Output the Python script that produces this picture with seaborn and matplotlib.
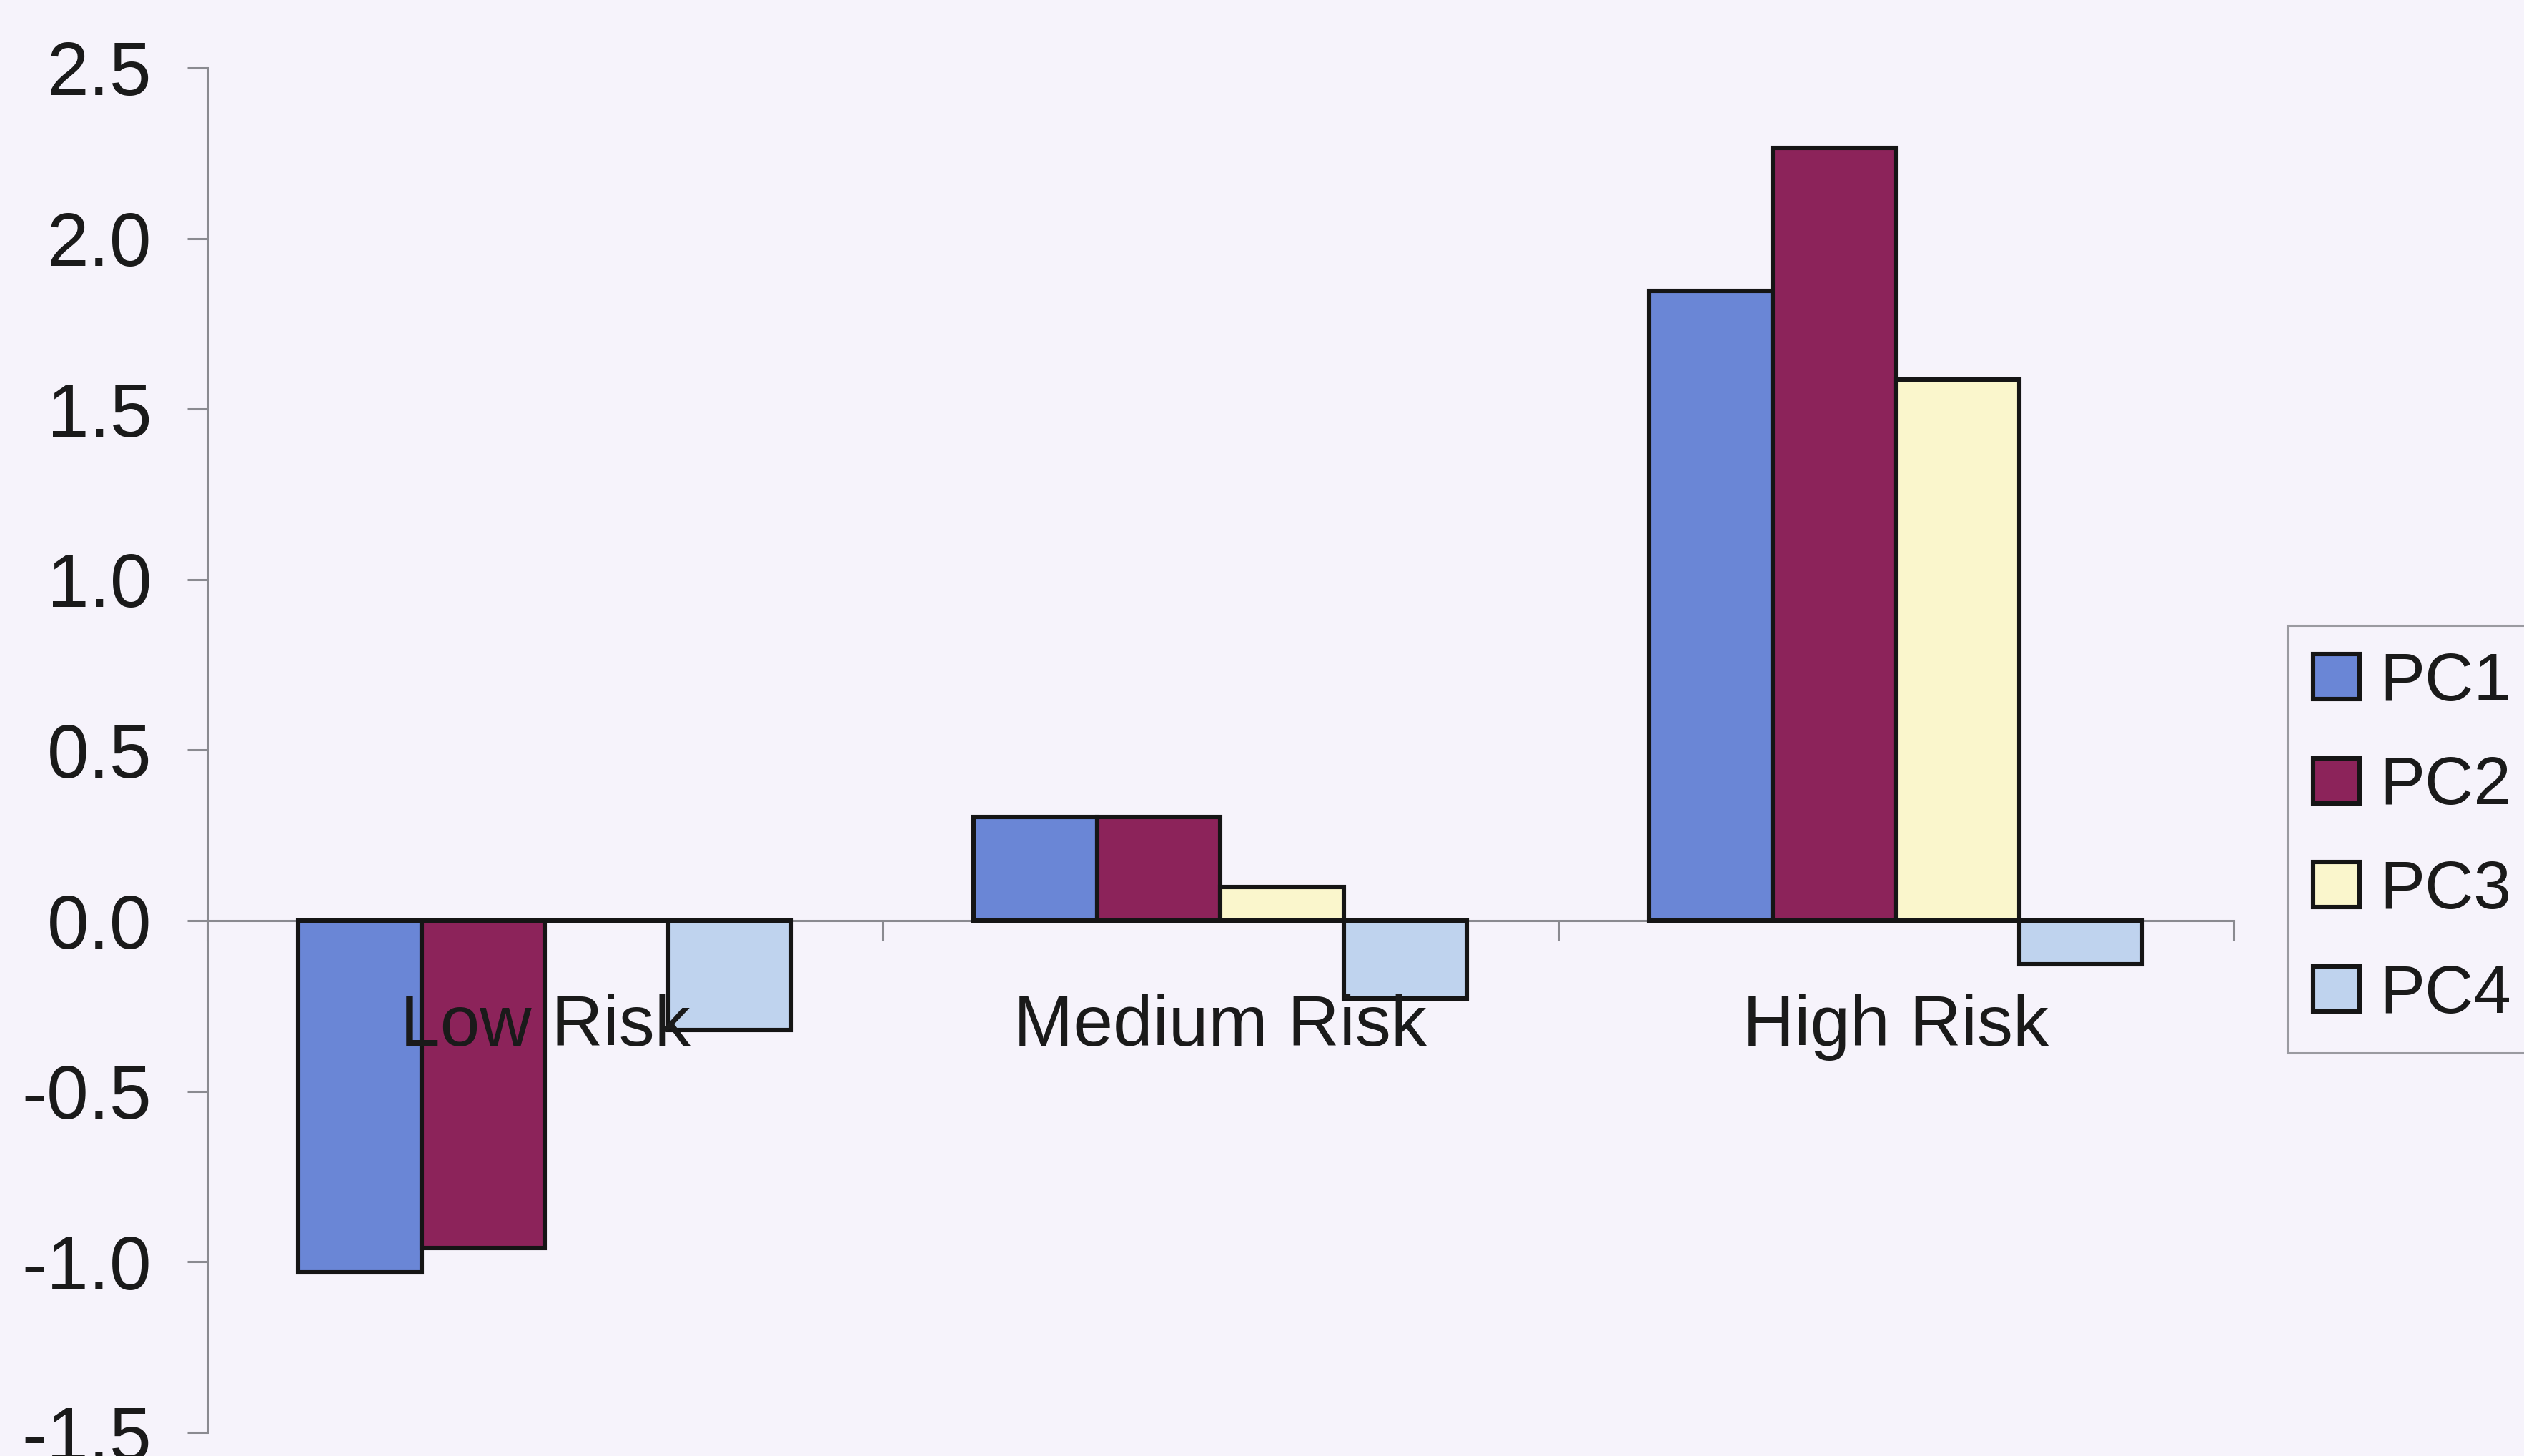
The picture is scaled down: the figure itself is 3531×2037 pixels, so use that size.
import matplotlib
matplotlib.use("Agg")
import matplotlib.pyplot as plt
from matplotlib.patches import Patch
from matplotlib.ticker import FixedLocator, FormatStrFormatter
import seaborn as sns
import pandas as pd

# ---- data ----
categories = ["Low Risk", "Medium Risk", "High Risk"]
series = ["PC1", "PC2", "PC3", "PC4"]
pc1 = [-1.03, 0.305, 1.847]
pc2 = [-0.96, 0.305, 2.265]
pc3 = [0.0, 0.098, 1.586]
pc4 = [-0.32, -0.228, -0.127]
colors = ["#6A86D6", "#8C235A", "#FAF6CC", "#BFD3EE"]
y_ticks = [-1.5, -1.0, -0.5, 0.0, 0.5, 1.0, 1.5, 2.0, 2.5]

rows = []
for s, vals in zip(series, [pc1, pc2, pc3, pc4]):
    for c, v in zip(categories, vals):
        rows.append({"Category": c, "Series": s, "Value": v})
df = pd.DataFrame(rows)

sns.set_style("white")
plt.rcParams["font.family"] = ["Liberation Sans", "DejaVu Sans"]
plt.rcParams["axes.unicode_minus"] = False

BG = "#F6F3FB"
fig = plt.figure(figsize=(17.655, 10.185), dpi=200, facecolor=BG)

ax = fig.add_axes([0.0821, 0.0162, 0.885 - 0.0821, 0.9534 - 0.0162])
ax.patch.set_alpha(0)

sns.barplot(data=df, x="Category", y="Value", hue="Series", order=categories,
            hue_order=series, palette=colors, saturation=1, width=0.73,
            edgecolor="#151515", linewidth=2.2, ax=ax, legend=False, zorder=3)

ax.set_xlim(-0.5, 2.5)
ax.set_ylim(-1.5, 2.5)
ax.set_xlabel("")
ax.set_ylabel("")

for side in ["top", "right"]:
    ax.spines[side].set_visible(False)
ax.spines["left"].set_color("#8A8A90")
ax.spines["left"].set_linewidth(1.1)
ax.spines["bottom"].set_position(("data", 0))
ax.spines["bottom"].set_color("#8A8A90")
ax.spines["bottom"].set_linewidth(1.1)
ax.spines["bottom"].set_zorder(1)

ax.yaxis.set_major_locator(FixedLocator(y_ticks))
ax.yaxis.set_major_formatter(FormatStrFormatter("%.1f"))
ax.tick_params(axis="y", which="major", direction="out", length=10,
               width=1.1, color="#8A8A90", pad=18, labelsize=38,
               labelcolor="#1a1a1a", left=True)

ax.set_xticks([0, 1, 2])
ax.set_xticklabels([])
ax.tick_params(axis="x", which="major", length=0)
ax.xaxis.set_minor_locator(FixedLocator([-0.5, 0.5, 1.5, 2.5]))
ax.tick_params(axis="x", which="minor", direction="out", length=10,
               width=1.1, color="#8A8A90", bottom=True)

for i, c in enumerate(categories):
    ax.text(i, -0.367, c, ha="center", va="baseline", fontsize=36,
            color="#1a1a1a", zorder=5)

handles = [Patch(facecolor=col, edgecolor="#151515", linewidth=2.2, label=s)
           for col, s in zip(colors, series)]
leg = ax.legend(handles=handles, loc="upper left",
                bbox_to_anchor=(0.9063, 0.5705), bbox_transform=fig.transFigure,
                fontsize=34, frameon=True, fancybox=False, framealpha=1,
                facecolor=BG, edgecolor="#9A9AA0", handlelength=0.69,
                handleheight=0.65, handletextpad=0.3, borderpad=0.38,
                labelspacing=0.6, borderaxespad=0)
leg.get_frame().set_linewidth(1.1)
for t in leg.get_texts():
    t.set_color("#1a1a1a")

fig.savefig("out.png", dpi=200, facecolor=BG)
